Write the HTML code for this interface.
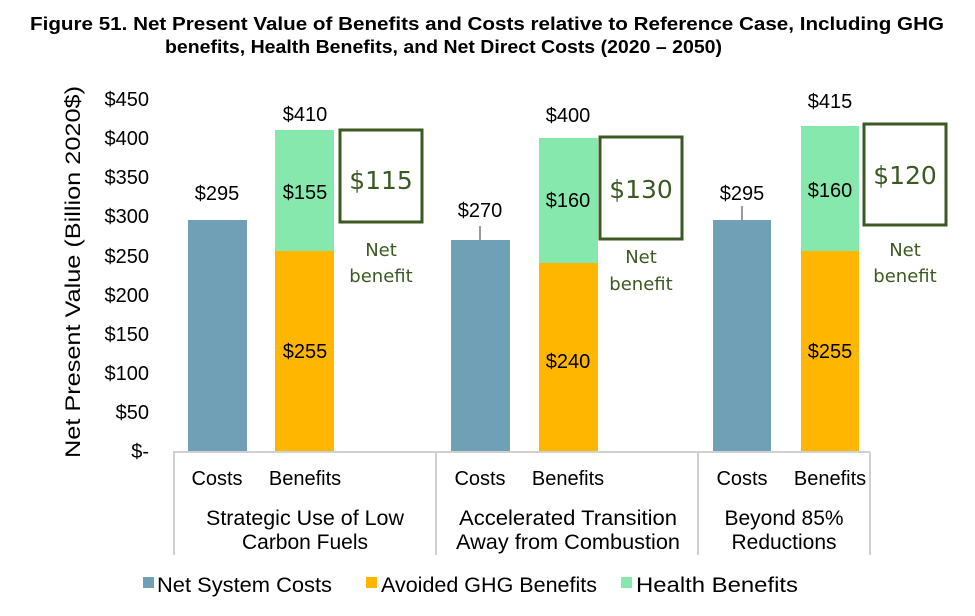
<!DOCTYPE html>
<html><head><meta charset="utf-8"><style>body{margin:0;background:#fff}svg{display:block}</style></head><body>
<svg width="975" height="616" xmlns="http://www.w3.org/2000/svg" font-family="Liberation Sans, Arial, sans-serif">
<text x="30" y="30" font-size="18" font-weight="bold" textLength="914" lengthAdjust="spacingAndGlyphs">Figure 51. Net Present Value of Benefits and Costs relative to Reference Case, Including GHG</text>
<text x="165" y="53" font-size="18" font-weight="bold" textLength="557" lengthAdjust="spacingAndGlyphs">benefits, Health Benefits, and Net Direct Costs (2020 – 2050)</text>
<g font-size="20" text-anchor="end" fill="#000">
<text x="149" y="106">$450</text><text x="149" y="145">$400</text><text x="149" y="184">$350</text><text x="149" y="223">$300</text><text x="149" y="263">$250</text><text x="149" y="302">$200</text><text x="149" y="341">$150</text><text x="149" y="380">$100</text><text x="149" y="419">$50</text><text x="149" y="458">$-</text>
</g>
<text transform="translate(80,272) rotate(-90)" font-size="21" text-anchor="middle" textLength="372" lengthAdjust="spacingAndGlyphs">Net Present Value  (Billion 2020$)</text>
<rect x="188" y="220" width="59" height="231" fill="#6fa0b5"/>
<rect x="275" y="251" width="59" height="200" fill="#ffb600"/>
<rect x="275" y="130" width="59" height="121" fill="#86e8ad"/>
<rect x="451" y="240" width="59" height="211" fill="#6fa0b5"/>
<rect x="539" y="263" width="59" height="188" fill="#ffb600"/>
<rect x="539" y="138" width="59" height="125" fill="#86e8ad"/>
<rect x="713" y="220" width="58" height="231" fill="#6fa0b5"/>
<rect x="801" y="251" width="58" height="200" fill="#ffb600"/>
<rect x="801" y="126" width="58" height="125" fill="#86e8ad"/>
<line x1="480" y1="226" x2="480" y2="240" stroke="#999" stroke-width="2"/>
<line x1="742" y1="206" x2="742" y2="220" stroke="#999" stroke-width="2"/>
<g stroke="#d0d0d0" stroke-width="2" fill="none">
<line x1="173" y1="452" x2="870" y2="452"/>
<line x1="174" y1="452" x2="174" y2="555"/>
<line x1="436" y1="452" x2="436" y2="555"/>
<line x1="698" y1="452" x2="698" y2="555"/>
<line x1="870" y1="452" x2="870" y2="555"/>
</g>
<g font-size="20" text-anchor="middle">
<text x="217" y="200">$295</text><text x="305" y="121">$410</text><text x="305" y="199">$155</text><text x="305" y="358">$255</text>
<text x="480" y="217">$270</text><text x="568" y="122">$400</text><text x="568" y="207">$160</text><text x="568" y="368">$240</text>
<text x="742" y="200">$295</text><text x="830" y="108">$415</text><text x="830" y="197">$160</text><text x="830" y="358">$255</text>
<text x="217" y="485">Costs</text><text x="305" y="485">Benefits</text>
<text x="480" y="485">Costs</text><text x="568" y="485">Benefits</text>
<text x="742" y="485">Costs</text><text x="830" y="485">Benefits</text>
</g>
<g font-size="21" text-anchor="middle">
<text x="305" y="525" textLength="198" lengthAdjust="spacingAndGlyphs">Strategic Use of Low</text><text x="305" y="549">Carbon Fuels</text>
<text x="568" y="525" textLength="218" lengthAdjust="spacingAndGlyphs">Accelerated Transition</text><text x="568" y="549" textLength="224" lengthAdjust="spacingAndGlyphs">Away from Combustion</text>
<text x="784" y="525">Beyond 85%</text><text x="784" y="549">Reductions</text>
</g>
<g fill="none" stroke="#3b5a22" stroke-width="3">
<rect x="340" y="130" width="82" height="92"/>
<rect x="600" y="137" width="82" height="102"/>
<rect x="864" y="124" width="82" height="101"/>
</g>
<g fill="#3b5a22" text-anchor="middle" font-family="DejaVu Sans, Liberation Sans, sans-serif">
<text x="381" y="189" font-size="25">$115</text>
<text x="641" y="198" font-size="25">$130</text>
<text x="905" y="184" font-size="25">$120</text>
<g font-size="18">
<text x="381" y="256">Net</text><text x="381" y="282">benefit</text>
<text x="641" y="263">Net</text><text x="641" y="290">benefit</text>
<text x="905" y="256">Net</text><text x="905" y="282">benefit</text>
</g>
</g>
<g font-size="21">
<rect x="143" y="577" width="11" height="11" fill="#6fa0b5"/><text x="157" y="592" textLength="175" lengthAdjust="spacingAndGlyphs">Net System Costs</text>
<rect x="366" y="577" width="11" height="11" fill="#ffb600"/><text x="381" y="592" textLength="216" lengthAdjust="spacingAndGlyphs">Avoided GHG Benefits</text>
<rect x="621" y="577" width="11" height="11" fill="#86e8ad"/><text x="636" y="592" textLength="162" lengthAdjust="spacingAndGlyphs">Health Benefits</text>
</g>
</svg>
</body></html>
